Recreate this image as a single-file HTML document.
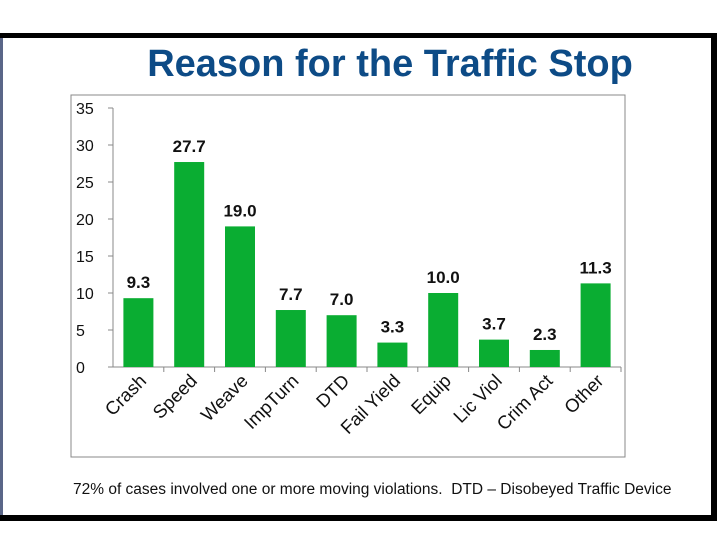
<!DOCTYPE html>
<html><head><meta charset="utf-8"><style>
body{margin:0;width:720px;height:540px;background:#fff;position:relative;overflow:hidden;font-family:"Liberation Sans",sans-serif}
</style></head><body>
<div style="position:absolute;left:0;top:33px;width:717px;height:5px;background:#000"></div>
<div style="position:absolute;left:711px;top:33px;width:6px;height:488px;background:#000"></div>
<div style="position:absolute;left:0;top:515px;width:717px;height:6px;background:#000"></div>
<div style="position:absolute;left:0;top:38px;width:3px;height:477px;background:#5a6688"></div>
<div style="position:absolute;left:0;width:780px;top:43px;text-align:center;font-size:38px;font-weight:bold;color:#0d4b86">Reason for the Traffic Stop</div>
<svg width="720" height="540" style="position:absolute;left:0;top:0" id="c"></svg>
<div style="position:absolute;left:73px;top:481px;font-size:15.5px;color:#111;white-space:nowrap">72% of cases involved one or more moving violations.&nbsp; DTD – Disobeyed Traffic Device</div>
<script>
const categories=["Crash","Speed","Weave","ImpTurn","DTD","Fail Yield","Equip","Lic Viol","Crim Act","Other"];
const values=[9.3,27.7,19.0,7.7,7.0,3.3,10.0,3.7,2.3,11.3];
const ticks=[0,5,10,15,20,25,30,35];
const svg=document.getElementById('c');const NS='http://www.w3.org/2000/svg';
function mk(t,a,txt){const e=document.createElementNS(NS,t);for(const k in a)e.setAttribute(k,a[k]);if(txt!=null)e.textContent=txt;svg.appendChild(e);return e;}
const y0=367,yTop=108,x0=113,x1=621;
const y=v=>y0-(v/35)*(y0-yTop);
const bw=(x1-x0)/categories.length;
const xc=i=>x0+bw*(i+0.5);
let e=mk('rect',{x:71,y:95,width:554,height:362,fill:'none',stroke:'#888','stroke-width':1});

e=mk('line',{x1:x0,y1:yTop,x2:x0,y2:y0,stroke:'#888'});

e=mk('line',{x1:x0,y1:y0,x2:x1,y2:y0,stroke:'#888'});

ticks.forEach(t=>{
 mk('line',{x1:x0-5,y1:y(t),x2:x0,y2:y(t),stroke:'#888'});
 e=mk('text',{x:76,y:y(t)+6,'font-size':16,fill:'#111'},t);
 
});
categories.forEach((c,i)=>{
 mk('line',{x1:x0+bw*(i+1),y1:y0,x2:x0+bw*(i+1),y2:y0+5,stroke:'#888'});
 e=mk('rect',{x:xc(i)-15,y:y(values[i]),width:30,height:y0-y(values[i]),fill:'#0aad32'});
 
 e=mk('text',{x:xc(i),y:y(values[i])-10,'font-size':17,'font-weight':'bold','text-anchor':'middle',fill:'#111'},values[i].toFixed(1));
 
 e=mk('text',{x:xc(i)+9,y:y0+15,'font-size':18.5,'text-anchor':'end',fill:'#111',transform:`rotate(-45 ${xc(i)+9} ${y0+15})`},c);
 
});
</script>
</body></html>
